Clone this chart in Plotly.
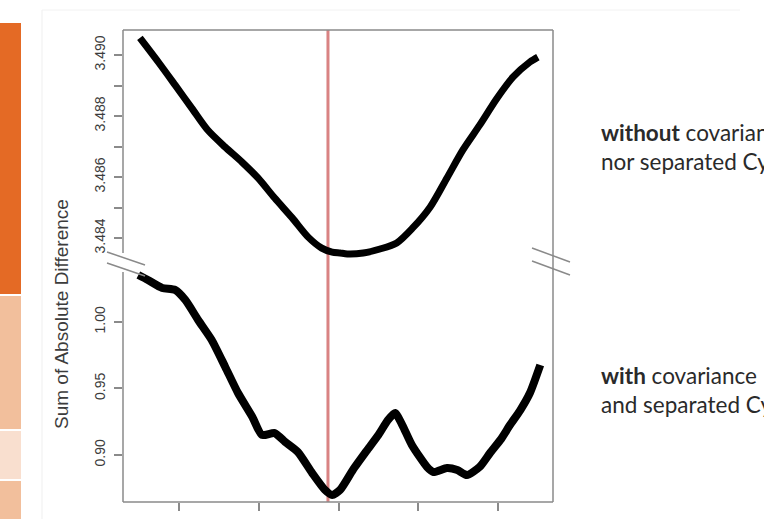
import plotly.graph_objects as go

# ---------------- data ----------------
# upper panel: "without covariance nor separated Cycles"
x_without = [0.51, 0.74, 0.95, 1.16, 1.36, 1.58, 1.79, 1.99, 2.20, 2.42, 2.62, 2.79, 2.92,
             3.02, 3.11, 3.31, 3.52, 3.73, 3.93, 4.15, 4.36, 4.56, 4.77, 4.99, 5.19, 5.40, 5.50]
y_without = [3.49056, 3.48977, 3.48902, 3.48826, 3.48754, 3.48698, 3.48649, 3.48597, 3.48531,
             3.48466, 3.48403, 3.48367, 3.48354, 3.48351, 3.48348, 3.48351, 3.48364, 3.48384,
             3.48433, 3.48502, 3.48597, 3.48689, 3.48770, 3.48859, 3.48928, 3.48977, 3.48993]

# lower panel: "with covariance and separated Cycles"
x_with = [0.49, 0.61, 0.79, 0.95, 1.08, 1.24, 1.41, 1.58, 1.74, 1.92, 2.04, 2.20, 2.33, 2.49,
          2.67, 2.83, 2.92, 3.02, 3.18, 3.36, 3.50, 3.62, 3.71, 3.80, 3.92, 4.11, 4.19, 4.36,
          4.49, 4.61, 4.77, 4.90, 5.03, 5.15, 5.28, 5.40, 5.53]
y_with = [1.0353, 1.0316, 1.0256, 1.0241, 1.0165, 1.0015, 0.9865, 0.9662, 0.9466, 0.9286,
          0.9150, 0.9165, 0.9098, 0.9022, 0.8864, 0.8737, 0.8699, 0.8737, 0.8887, 0.9037,
          0.9150, 0.9263, 0.9316, 0.9225, 0.9075, 0.8910, 0.8872, 0.8902, 0.8887, 0.8849,
          0.8910, 0.9015, 0.9113, 0.9225, 0.9338, 0.9466, 0.9677]

red_line_x = 2.868
x_ticks = [1, 2, 3, 4, 5]
upper_ticks = [3.484, 3.485, 3.486, 3.487, 3.488, 3.489, 3.490]
upper_labels = ["3.484", "", "3.486", "", "3.488", "", "3.490"]
lower_ticks = [0.90, 0.95, 1.00]
lower_labels = ["0.90", "0.95", "1.00"]

W, H = 764, 519


def px(x):
    return x / W


def py(y):
    return 1 - y / H


AXC = "#8a8a8a"
TXT = "#3c3c3c"

fig = go.Figure()
fig.add_trace(go.Scatter(x=x_without, y=y_without, xaxis="x", yaxis="y2", mode="lines",
                         line=dict(color="black", width=7, shape="spline", smoothing=0.8),
                         showlegend=False))
fig.add_trace(go.Scatter(x=x_with, y=y_with, xaxis="x", yaxis="y", mode="lines",
                         line=dict(color="black", width=8, shape="spline", smoothing=0.6),
                         showlegend=False))

shapes = []
# left slide decoration bars
for (y0, y1, c) in [(23, 294, "#E46A25"), (296, 429, "#F2BF9C"), (431, 479, "#F9DFCF"),
                    (481, 519, "#F2BF9C")]:
    shapes.append(dict(type="rect", xref="paper", yref="paper", x0=0, x1=px(21),
                       y0=py(y1), y1=py(y0), fillcolor=c, line=dict(width=0), layer="below"))
# faint picture border
shapes.append(dict(type="line", xref="paper", yref="paper", x0=px(42), x1=px(42),
                   y0=0, y1=py(10), line=dict(color="#EFEFEF", width=1)))
shapes.append(dict(type="line", xref="paper", yref="paper", x0=px(42), x1=px(740),
                   y0=py(10), y1=py(10), line=dict(color="#F2F2F2", width=1)))
# red reference line
shapes.append(dict(type="line", xref="x", yref="paper", x0=red_line_x, x1=red_line_x,
                   y0=py(502), y1=py(30), line=dict(color="#D98383", width=3), layer="below"))
# box
lw = 1.5
for (x0, y0, x1, y1) in [(123, 30, 553, 30), (123, 502, 553, 502), (553, 30, 553, 502),
                         (123, 30, 123, 253), (123, 272, 123, 502),
                         (107, 252, 145, 265), (107, 263, 145, 276),
                         (532, 248, 570, 262), (532, 261, 570, 275)]:
    shapes.append(dict(type="line", xref="paper", yref="paper", x0=px(x0), x1=px(x1),
                       y0=py(y0), y1=py(y1), line=dict(color=AXC, width=lw)))

side_font = dict(family="Lato", size=22.5, color="#2a2a2a")
annotations = [
    dict(text="Sum of Absolute Difference", x=px(61), y=py(314), xref="paper", yref="paper",
         xanchor="center", yanchor="middle", textangle=-90, showarrow=False,
         font=dict(family="Liberation Sans, Arial", size=19, color=TXT)),
    dict(text="<b>without</b> covariance", x=px(599), y=py(132), xref="paper", yref="paper",
         xanchor="left", yanchor="middle", showarrow=False, font=side_font),
    dict(text="nor separated Cycles", x=px(599), y=py(162), xref="paper", yref="paper",
         xanchor="left", yanchor="middle", showarrow=False, font=side_font),
    dict(text="<b>with</b> covariance", x=px(599), y=py(375), xref="paper", yref="paper",
         xanchor="left", yanchor="middle", showarrow=False, font=side_font),
    dict(text="and separated Cycles", x=px(599), y=py(404), xref="paper", yref="paper",
         xanchor="left", yanchor="middle", showarrow=False, font=side_font),
]

tickfont = dict(family="Liberation Sans, Arial", size=14, color=TXT)
fig.update_layout(
    width=W, height=H, margin=dict(l=0, r=0, t=0, b=0),
    paper_bgcolor="white", plot_bgcolor="rgba(0,0,0,0)",
    xaxis=dict(domain=[px(123), px(553)], range=[0.2978, 5.6897], anchor="y",
               tickvals=x_ticks, showticklabels=False, ticks="outside", ticklen=8,
               tickcolor=AXC, tickwidth=1.5, showgrid=False, zeroline=False, showline=False),
    yaxis=dict(domain=[py(502), py(270)], range=[0.86464, 1.0391], anchor="x",
               tickvals=lower_ticks, ticktext=lower_labels, tickangle=-90, tickfont=tickfont,
               ticks="outside", ticklen=8, tickcolor=AXC, tickwidth=1.5, ticklabelstandoff=3,
               showgrid=False, zeroline=False, showline=False),
    yaxis2=dict(domain=[py(260), py(30)], range=[3.48328, 3.49082], anchor="x",
                tickvals=upper_ticks, ticktext=upper_labels, tickangle=-90, tickfont=tickfont,
                ticks="outside", ticklen=8, tickcolor=AXC, tickwidth=1.5, ticklabelstandoff=3,
                showgrid=False, zeroline=False, showline=False),
    shapes=shapes, annotations=annotations,
)

fig.write_html("out.html", config={"displayModeBar": False},
               post_script="document.body.style.margin='0';document.body.style.overflow='hidden';")
